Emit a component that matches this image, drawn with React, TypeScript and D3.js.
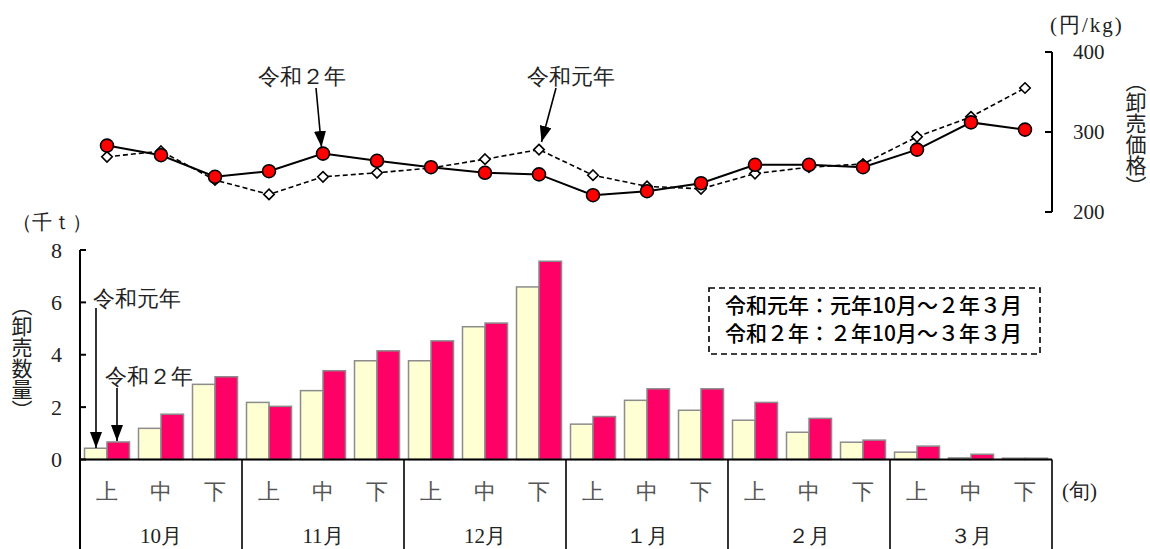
import React from 'react';
import * as d3 from 'd3';

const dekads = ['上', '中', '下'];
const months = ['10月', '11月', '12月', '１月', '２月', '３月'];
const qtyR1 = [0.43, 1.19, 2.87, 2.18, 2.63, 3.77, 3.77, 5.07, 6.59, 1.35, 2.26, 1.88, 1.5, 1.04, 0.66, 0.28, 0.06, 0.05];
const qtyR2 = [0.67, 1.73, 3.16, 2.03, 3.39, 4.15, 4.53, 5.21, 7.57, 1.64, 2.7, 2.7, 2.18, 1.57, 0.74, 0.51, 0.2, 0.05];
const priceR1 = [269, 276, 240, 222, 244, 249, 255, 266, 278, 246, 232, 229, 248, 256, 260, 294, 319, 355];
const priceR2 = [283, 271, 244, 251, 273, 264, 256, 249, 247, 221, 226, 236, 259, 259, 256, 278, 312, 303];
const qtyTicks = [0, 2, 4, 6, 8];
const priceTicks = [200, 300, 400];

const SERIF = 'Liberation Serif';
const GOTHIC = 'Noto Sans CJK JP';

type TP = { x: number; y: number; size: number; fill?: string; anchor?: string; spacing?: number; children: React.ReactNode };
function T({ x, y, size, fill = '#222', anchor = 'start', spacing, children }: TP) {
  return (
    <text x={x} y={y} dy="0.35em" fontFamily={SERIF} fontSize={size} fill={fill} textAnchor={anchor} letterSpacing={spacing}>
      {children}
    </text>
  );
}
function VT({ x, y, size, children }: { x: number; y: number; size: number; children: string }) {
  return (
    <text x={x} y={y} fontFamily={GOTHIC} fontSize={size} fill="#222" textAnchor="middle" style={{ writingMode: 'vertical-rl' }}>
      {children}
    </text>
  );
}

export default function App() {
  const idx = d3.range(qtyR1.length);
  const x = d3.scaleBand<number>().domain(idx).range([80, 1052]).padding(0);
  const bw = x.bandwidth();
  const yQ = d3.scaleLinear().domain([0, 8]).range([459.5, 250]);
  const yP = d3.scaleLinear().domain([200, 400]).range([212, 52]);
  const cx = (i: number) => (x(i) as number) + bw / 2;

  const lineR1 = d3.line<number>().x((_, i) => cx(i)).y((d) => yP(d))(priceR1) as string;
  const lineR2 = d3.line<number>().x((_, i) => cx(i)).y((d) => yP(d))(priceR2) as string;
  const diamond = d3.symbol().type(d3.symbolDiamond2 ?? d3.symbolDiamond).size(70)() as string;

  const barPad = 4.5;
  const barW = (bw - 2 * barPad) / 2;
  const monthW = bw * 3;

  return (
    <svg width={1150} height={549} style={{ position: 'absolute', left: 0, top: 0, background: '#fff' }}>
      <defs>
        <marker id="arr" markerUnits="userSpaceOnUse" markerWidth={16} markerHeight={12} refX={16} refY={6} orient="auto" viewBox="0 0 16 12">
          <path d="M0,0 L16,6 L0,12 z" fill="#000" />
        </marker>
      </defs>

      {/* ---------- Price line chart ---------- */}
      <path d={lineR1} fill="none" stroke="#000" strokeWidth={1.6} strokeDasharray="5,3" />
      {priceR1.map((v, i) => (
        <path key={'d' + i} d={diamond} transform={`translate(${cx(i)},${yP(v)})`} fill="#fff" stroke="#000" strokeWidth={1.6} />
      ))}
      <path d={lineR2} fill="none" stroke="#000" strokeWidth={2} />
      {priceR2.map((v, i) => (
        <circle key={'c' + i} cx={cx(i)} cy={yP(v)} r={6.5} fill="#ff0000" stroke="#000" strokeWidth={1.6} />
      ))}

      {/* right axis */}
      <line x1={1052} x2={1052} y1={yP(400)} y2={yP(200)} stroke="#000" strokeWidth={2} />
      {priceTicks.map((t) => (
        <g key={'pt' + t}>
          <line x1={1045} x2={1052} y1={yP(t)} y2={yP(t)} stroke="#000" strokeWidth={2} />
          <T x={1073} y={yP(t)} size={21}>{t}</T>
        </g>
      ))}
      <T x={1050} y={25} size={21} spacing={2}>(円/kg)</T>
      <VT x={1136} y={134} size={21}>（卸売価格）</VT>

      {/* line annotations */}
      <T x={302} y={76} size={22} anchor="middle">令和２年</T>
      <line x1={316} y1={88} x2={321.5} y2={147} stroke="#000" strokeWidth={1.6} markerEnd="url(#arr)" />
      <T x={571} y={76} size={22} anchor="middle">令和元年</T>
      <line x1={556} y1={88} x2={541.5} y2={142} stroke="#000" strokeWidth={1.6} markerEnd="url(#arr)" />

      {/* ---------- Quantity bar chart ---------- */}
      {qtyR1.map((v, i) => (
        <rect key={'b1' + i} x={(x(i) as number) + barPad} y={yQ(v)} width={barW} height={yQ(0) - yQ(v)} fill="#ffffd4" stroke="#8c8c8c" strokeWidth={1.5} />
      ))}
      {qtyR2.map((v, i) => (
        <rect key={'b2' + i} x={(x(i) as number) + barPad + barW} y={yQ(v)} width={barW} height={yQ(0) - yQ(v)} fill="#ff0066" stroke="#8c8c8c" strokeWidth={1.5} />
      ))}

      {/* left axis */}
      <line x1={80} x2={80} y1={yQ(8)} y2={549} stroke="#000" strokeWidth={2} />
      {qtyTicks.map((t) => (
        <g key={'qt' + t}>
          <line x1={80} x2={86} y1={yQ(t)} y2={yQ(t)} stroke="#000" strokeWidth={2} />
          <T x={62} y={yQ(t)} size={22} anchor="end">{t}</T>
        </g>
      ))}
      <T x={12} y={222} size={20}>（千ｔ）</T>
      <VT x={22} y={358} size={21}>（卸売数量）</VT>

      {/* baseline and category table */}
      <line x1={80} x2={1052} y1={yQ(0)} y2={yQ(0)} stroke="#000" strokeWidth={2} />
      {months.map((m, k) => (
        <g key={'m' + k}>
          <line x1={80 + monthW * (k + 1)} x2={80 + monthW * (k + 1)} y1={yQ(0)} y2={549} stroke="#000" strokeWidth={1.6} />
          <T x={80 + monthW * (k + 0.5)} y={536} size={21} anchor="middle">{m}</T>
        </g>
      ))}
      {idx.map((i) => (
        <T key={'dk' + i} x={cx(i)} y={491} size={22} fill="#555" anchor="middle">{dekads[i % 3]}</T>
      ))}
      <T x={1062} y={491} size={21}>(旬)</T>

      {/* bar annotations */}
      <T x={93} y={298} size={22}>令和元年</T>
      <line x1={96} y1={308} x2={96} y2={448} stroke="#000" strokeWidth={1.6} markerEnd="url(#arr)" />
      <T x={105} y={376} size={22}>令和２年</T>
      <line x1={117} y1={388} x2={117} y2={441} stroke="#000" strokeWidth={1.6} markerEnd="url(#arr)" />

      {/* legend note */}
      <rect x={709} y={288} width={331} height={66} fill="#fff" stroke="#000" strokeWidth={1.6} strokeDasharray="6,4" />
      <text x={725} y={306} dy="0.35em" fontFamily={GOTHIC} fontSize={21} fontWeight={500} fill="#000">令和元年：元年10月～２年３月</text>
      <text x={725} y={334} dy="0.35em" fontFamily={GOTHIC} fontSize={21} fontWeight={500} fill="#000">令和２年：２年10月～３年３月</text>
    </svg>
  );
}
